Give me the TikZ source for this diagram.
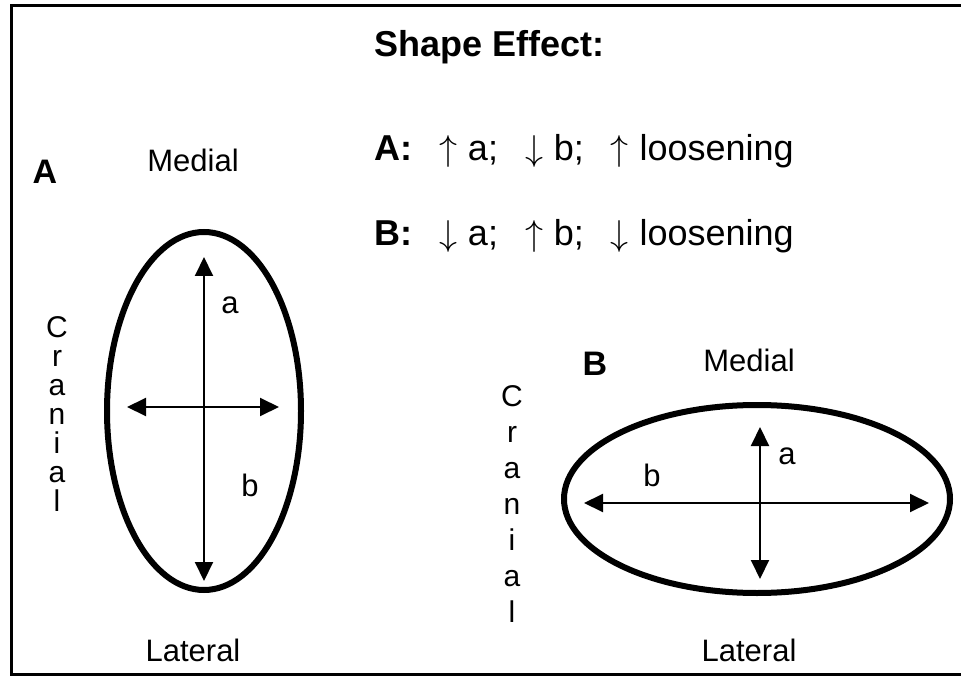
\RequirePackage{fix-cm}
\documentclass[tikz,border=0pt]{standalone}
\usepackage{fontspec}
\setmainfont{Liberation Sans}
\usetikzlibrary{arrows.meta,shapes.geometric}

\newcommand{\up}{$\uparrow$\hspace{0.3em}}
\newcommand{\dn}{$\downarrow$\hspace{0.3em}}
\newcommand{\gap}{\hspace{0.75em}}

\begin{document}
\begin{tikzpicture}[
    x=1pt, y=-1pt,
    lbl/.style={inner sep=0pt, font=\fontsize{31}{34}\selectfont},
    tag/.style={inner sep=0pt, font=\fontsize{34}{38}\selectfont\bfseries},
    effect/.style={inner sep=0pt, anchor=west, font=\fontsize{36}{40}\selectfont},
    vert/.style={inner sep=0pt, align=center, font=\fontsize{30}{#1}\selectfont},
    rim/.style={ellipse, draw=black, line width=6pt, inner sep=0pt},
    arr/.style={{Triangle[length=19pt,width=18pt]}-{Triangle[length=19pt,width=18pt]},
                line width=2pt, draw=black}
]
    \useasboundingbox (0,0) rectangle (961,676);
    \draw[line width=3pt] (961,6) -- (11,6) -- (11,674) -- (961,674);

    % shape effect text
    \node[effect] (title) at (374,47) {\bfseries Shape Effect:};
    \node[effect] (rowA) at (374,151) {\textbf{A:}\gap\up a;\gap\dn b;\gap\up loosening};
    \node[effect] (rowB) at (374,236) {\textbf{B:}\gap\dn a;\gap\up b;\gap\dn loosening};

    % oval A
    \node[tag] (tagA) at (45,172) {A};
    \node[lbl] (medA) at (193,160) {Medial};
    \node[lbl] (latA) at (193,650) {Lateral};
    \node[vert=29] (cranA) at (57,414) {C\\r\\a\\n\\i\\a\\l};
    \node[rim, minimum width=194pt, minimum height=358pt] (ovalA) at (204,411) {};
    \coordinate (aTop) at (204,257);
    \coordinate (aBot) at (204,581);
    \coordinate (aLeft) at (127,407);
    \coordinate (aRight) at (279,407);
    \draw[arr] (aTop) -- (aBot);
    \draw[arr] (aLeft) -- (aRight);
    \node[lbl] (aA) at (230,305) {a};
    \node[lbl] (bA) at (250,485) {b};

    % oval B
    \node[tag] (tagB) at (595,364) {B};
    \node[lbl] (medB) at (749,360) {Medial};
    \node[lbl] (latB) at (749,650) {Lateral};
    \node[vert=36] (cranB) at (512,504) {C\\r\\a\\n\\i\\a\\l};
    \node[rim, minimum width=386pt, minimum height=188pt] (ovalB) at (757,499) {};
    \coordinate (bTop) at (760,427);
    \coordinate (bBot) at (760,579);
    \coordinate (bLeft) at (584,503);
    \coordinate (bRight) at (929,503);
    \draw[arr] (bTop) -- (bBot);
    \draw[arr] (bLeft) -- (bRight);
    \node[lbl] (aB) at (787,456) {a};
    \node[lbl] (bB) at (652,475) {b};
\end{tikzpicture}
\end{document}
